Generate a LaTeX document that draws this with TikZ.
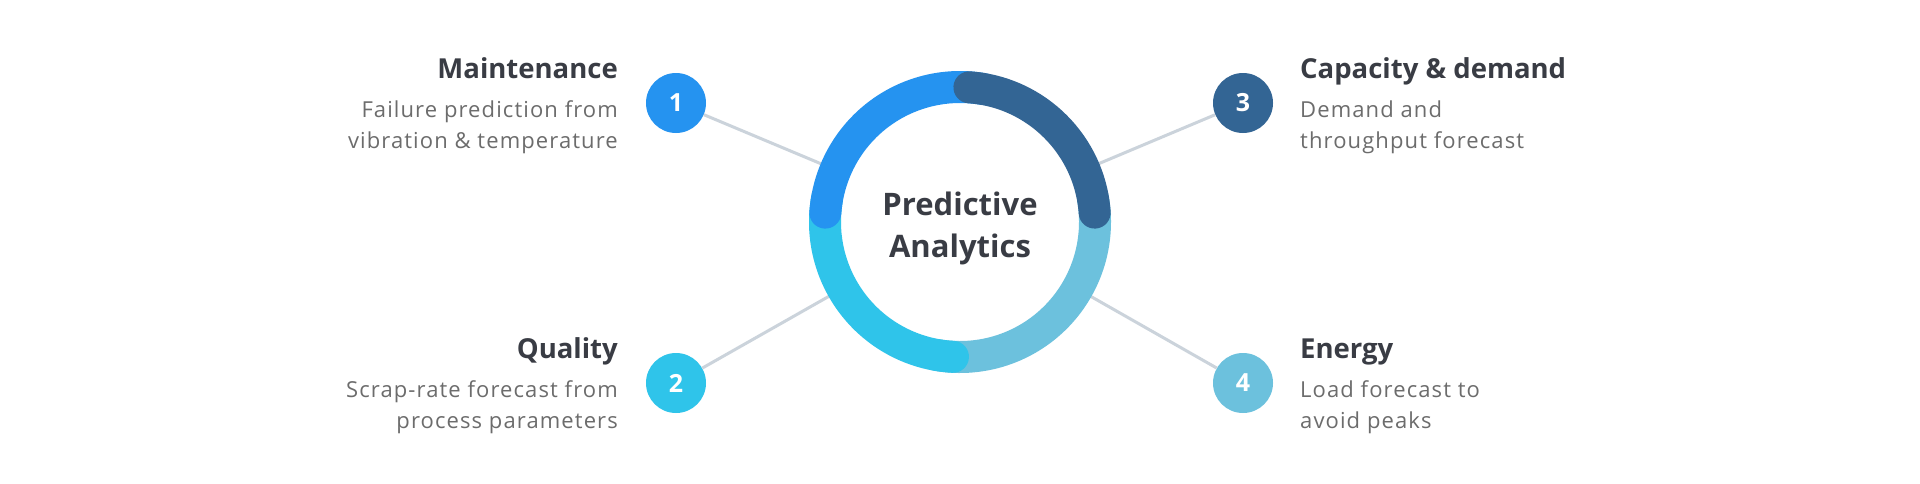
\documentclass[tikz,border=0pt]{standalone}
\usepackage{fontspec}
\setmainfont{Open Sans}
\newfontfamily\descfont[LetterSpace=5]{Open Sans}
\usetikzlibrary{calc}
\definecolor{titlecol}{RGB}{57,60,68}
\definecolor{desccol}{RGB}{108,108,108}
\definecolor{linecol}{RGB}{203,211,219}
\definecolor{cone}{RGB}{37,147,240}
\definecolor{ctwo}{RGB}{47,196,234}
\definecolor{cthree}{RGB}{51,101,148}
\definecolor{cfour}{RGB}{108,193,221}
\tikzset{
  badge/.style={circle, minimum size=60pt, inner sep=0pt, text=white, font=\fontsize{25}{25}\selectfont\bfseries},
  ttl/.style={text=titlecol, font=\fontsize{27.5}{32}\selectfont\bfseries, inner sep=0pt},
  dsc/.style={text=desccol, font=\descfont\fontsize{22}{31}\selectfont, inner sep=0pt},
  connector/.style={draw=linecol, line width=3pt},
  seg/.style={line width=32pt, line cap=round},
  centertext/.style={text=titlecol, font=\fontsize{31}{42}\selectfont\bfseries, inner sep=0pt}
}
\begin{document}
\begin{tikzpicture}[x=1pt,y=-1pt]
\useasboundingbox[fill=white] (0,0) rectangle (1920,483);
\coordinate (c) at (960,222);
% badges
\node[badge, fill=cone] (b1) at (676,103) {1};
\node[badge, fill=ctwo] (b2) at (676,383) {2};
\node[badge, fill=cthree] (b3) at (1243,103) {3};
\node[badge, fill=cfour] (b4) at (1243,383) {4};
% ring edge points
\coordinate (r1) at ($(c)!150pt!(b1)$);
\coordinate (r2) at ($(c)!150pt!(b2)$);
\coordinate (r3) at ($(c)!150pt!(b3)$);
\coordinate (r4) at ($(c)!150pt!(b4)$);
\draw[connector] (b1) -- (r1);
\draw[connector] (b2) -- (r2);
\draw[connector] (b3) -- (r3);
\draw[connector] (b4) -- (r4);
% ring segments (tikz angle = - visual angle)
\draw[seg, cfour] ($(c)+(-260:135)$) arc[start angle=-260, end angle=-370, radius=135];
\draw[seg, ctwo] ($(c)+(-170:135)$) arc[start angle=-170, end angle=-267, radius=135];
\draw[seg, cone] ($(c)+(-80:135)$) arc[start angle=-80, end angle=-176, radius=135];
\draw[seg, cthree] ($(c)+(-4:135)$) arc[start angle=-4, end angle=-86, radius=135];
\node[centertext, anchor=base] (ctexta) at (960,215) {Predictive};
\node[centertext, anchor=base] (ctextb) at (960,257) {Analytics};
% texts left
\node[ttl, anchor=base east] (t1) at (618,78) {Maintenance};
\node[dsc, anchor=base east] (d1a) at (618,117) {Failure prediction from};
\node[dsc, anchor=base east] (d1b) at (618,148) {vibration \& temperature};
\node[ttl, anchor=base east] (t2) at (618,358) {Quality};
\node[dsc, anchor=base east] (d2a) at (618,397) {Scrap-rate forecast from};
\node[dsc, anchor=base east] (d2b) at (618,428) {process parameters};
% texts right
\node[ttl, anchor=base west] (t3) at (1300,78) {Capacity \& demand};
\node[dsc, anchor=base west] (d3a) at (1300,117) {Demand and};
\node[dsc, anchor=base west] (d3b) at (1300,148) {throughput forecast};
\node[ttl, anchor=base west] (t4) at (1300,358) {Energy};
\node[dsc, anchor=base west] (d4a) at (1300,397) {Load forecast to};
\node[dsc, anchor=base west] (d4b) at (1300,428) {avoid peaks};
\end{tikzpicture}
\end{document}
